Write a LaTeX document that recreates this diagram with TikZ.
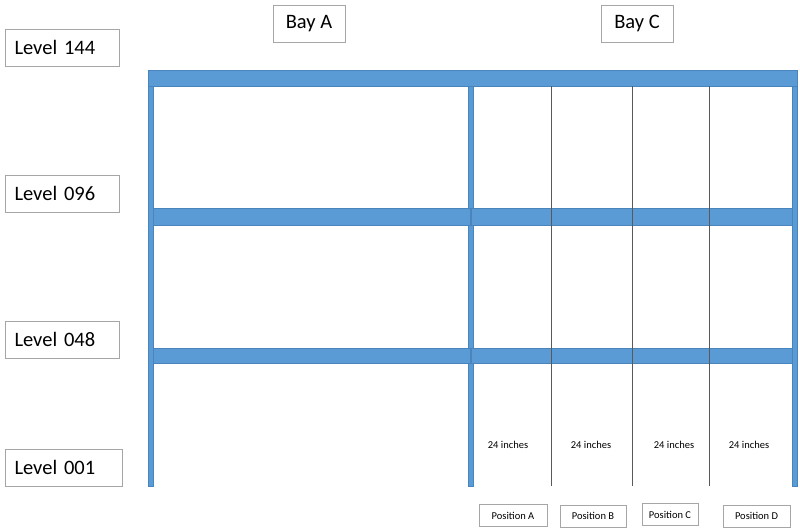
\documentclass[tikz,border=0pt]{standalone}
\usepackage{fontspec}
\setmainfont{Carlito}
\definecolor{beam}{HTML}{5B9BD5}
\definecolor{beamedge}{HTML}{4A84BD}
\definecolor{boxedge}{HTML}{A6A6A6}
\begin{document}
\begin{tikzpicture}[x=1pt,y=-1pt,
  lvl/.style={draw=boxedge,line width=1pt,fill=white,font=\fontsize{20.5}{22}\selectfont,
    text width=95pt,align=left,inner xsep=9.5pt,minimum height=37pt,inner ysep=0pt},
  bay/.style={draw=boxedge,line width=1pt,fill=white,font=\fontsize{20.5}{22}\selectfont,
    minimum width=72pt,minimum height=37pt,inner sep=0pt},
  posbox/.style={draw=boxedge,line width=0.8pt,fill=white,font=\fontsize{10.5}{12}\selectfont,
    minimum height=22pt,inner sep=0pt},
  dim/.style={font=\fontsize{10.5}{12}\selectfont,inner sep=0pt},
  steel/.style={fill=beam,draw=beamedge,line width=0.5pt},
  divider/.style={draw=black!65,line width=0.8pt}]
\useasboundingbox (0,0) rectangle (800,531);

% labels
\node[lvl] (l144) at (62,47.5) {Level 144};
\node[lvl] (l096) at (62,193.5) {Level 096};
\node[lvl] (l048) at (62,339.5) {Level 048};
\node[lvl,text width=98pt] (l001) at (63.5,467.5) {Level 001};
\node[bay] (bayA) at (309,23.5) {Bay A};
\node[bay] (bayC) at (637,23.5) {Bay C};

% posts
\draw[steel] (148,86) rectangle (153,486);
\draw[steel] (468,86) rectangle (473,486);
\draw[steel] (792,86) rectangle (797,486);
% beams
\draw[steel] (148,70) rectangle (797,86);
\draw[steel] (153,208) rectangle (792,225);
\draw[steel] (153,348) rectangle (792,363);
% post over beams
\fill[beamedge] (469.5,208) rectangle (471.5,225);
\fill[beamedge] (469.5,348) rectangle (471.5,363);

% position dividers
\coordinate (d1t) at (551,86); \coordinate (d1b) at (551,486);
\coordinate (d2t) at (632,86); \coordinate (d2b) at (632,486);
\coordinate (d3t) at (709,86); \coordinate (d3b) at (709,486);
\draw[divider] (d1t) -- (d1b);
\draw[divider] (d2t) -- (d2b);
\draw[divider] (d3t) -- (d3b);

% dimension labels
\node[dim] (w1) at (508,445) {24 inches};
\node[dim] (w2) at (591,445) {24 inches};
\node[dim] (w3) at (674,445) {24 inches};
\node[dim] (w4) at (749,445) {24 inches};

% position boxes
\node[posbox,minimum width=68pt] (pA) at (513,515.5) {Position A};
\node[posbox,minimum width=66pt] (pB) at (593,516) {Position B};
\node[posbox,minimum width=56pt] (pC) at (670,514.5) {Position C};
\node[posbox,minimum width=67pt] (pD) at (756.5,516) {Position D};
\end{tikzpicture}
\end{document}
